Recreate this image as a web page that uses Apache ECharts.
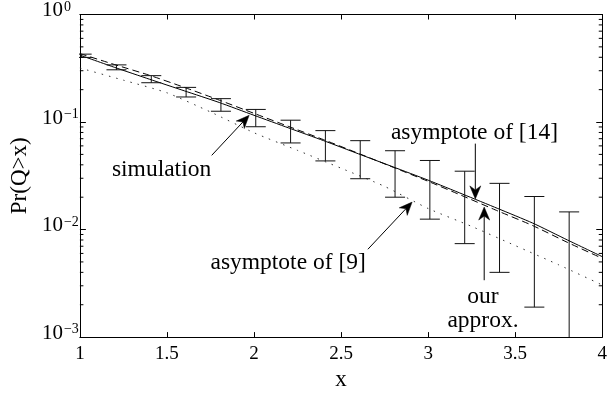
<!DOCTYPE html>
<html><head><meta charset="utf-8">
<script src="https://cdn.jsdelivr.net/npm/echarts@6/dist/echarts.min.js"></script>
<style>html,body{margin:0;padding:0;background:#fff}#c{width:610px;height:396px}</style>
</head><body><div id="c"></div>
<script>
// ---- data ----
const xLine  = [1.0,1.2,1.4,1.6,1.8,2.0,2.2,2.4,2.6,2.8,3.0,3.2,3.4,3.6,3.8,4.0];
const asym14 = [0.419,0.322,0.250,0.195,0.152,0.1155,0.088,0.0671,0.0506,0.0382,0.0288,0.0213,0.0157,0.0115,0.0080,0.0056];
const approx = [0.433,0.342,0.272,0.210,0.160,0.1204,0.0908,0.0685,0.0511,0.0379,0.0281,0.0205,0.0149,0.0109,0.0076,0.0054];
const xDot   = [1.0,1.25,1.5,1.75,2.0,2.25,2.5,2.75,3.0,3.25,3.5,3.75,4.0];
const asym9  = [0.318,0.245,0.187,0.124,0.0795,0.0545,0.0372,0.0252,0.0157,0.0107,0.0071,0.0047,0.00305];
const simX   = [1.01,1.21,1.41,1.61,1.81,2.01,2.21,2.41,2.61,2.81,3.01,3.21,3.41,3.61,3.81];
const simHi  = [0.428,0.340,0.270,0.210,0.165,0.131,0.104,0.0832,0.0671,0.0541,0.0439,0.0349,0.0269,0.0203,0.0146];
const simLo  = [0.399,0.306,0.232,0.171,0.126,0.0904,0.0639,0.0435,0.0297,0.0200,0.0125,0.0074,0.0040,0.0019,0.0008];
const minorTicks = [0.002,0.003,0.004,0.005,0.006,0.007,0.008,0.009,0.02,0.03,0.04,0.05,0.06,0.07,0.08,0.09,0.2,0.3,0.4,0.5,0.6,0.7,0.8,0.9];
const xLabelName = 'x';
const yLabelName = 'Pr(Q>x)';
// annotations: [text, data position], arrows: tail -> tip (data coords)
const annTexts = [
  ['simulation', [1.469, 0.0358]],
  ['asymptote of [9]', [2.196, 0.00487]],
  ['asymptote of [14]', [3.266, 0.0793]],
  ['our\napprox.', [3.315, 0.00183]]
];
const annArrows = [
  [[1.757, 0.0490], [1.972, 0.1155]],
  [[2.654, 0.00656], [2.908, 0.0180]],
  [[3.271, 0.0630], [3.271, 0.01928]],
  [[3.322, 0.00338], [3.322, 0.0162]]
];

const FONT = "'Liberation Serif','Times New Roman',serif";
const chart = echarts.init(document.getElementById('c'), null, {renderer:'canvas'});

const zip = (a,b) => a.map((v,i)=>[v,b[i]]);
const simData = simX.map((x,i)=>[x, simLo[i], simHi[i]]);

const yFmt = v => { const e = Math.round(Math.log10(v)); return '{b|10}{e|' + (e<0 ? '\u2212'+(-e) : e) + '}'; };

const option = {
  animation:false,
  backgroundColor:'#fff',
  grid:{left:74, right:5, top:13, bottom:53, containLabel:false},
  xAxis:[{
    type:'value', min:1, max:4, interval:0.5, position:'bottom',
    name:xLabelName, nameLocation:'middle', nameGap:25,
    nameTextStyle:{fontSize:23, fontFamily:FONT, color:'#000'},
    axisLine:{show:true, lineStyle:{color:'#000', width:1}},
    axisTick:{show:true, inside:true, length:5, lineStyle:{color:'#000'}},
    axisLabel:{fontSize:19, fontFamily:FONT, color:'#000', margin:7},
    splitLine:{show:false}
  },{
    type:'value', min:1, max:4, interval:0.5, position:'top',
    axisLine:{show:true, lineStyle:{color:'#000', width:1}},
    axisTick:{show:true, inside:true, length:5, lineStyle:{color:'#000'}},
    axisLabel:{show:false}, splitLine:{show:false}
  }],
  yAxis:[{
    type:'log', logBase:10, min:0.001, max:1, position:'left',
    name:yLabelName, nameLocation:'middle', nameGap:45, nameRotate:90,
    nameTextStyle:{fontSize:23, fontFamily:FONT, color:'#000'},
    axisLine:{show:true, lineStyle:{color:'#000', width:1}},
    axisTick:{show:true, inside:true, length:6, lineStyle:{color:'#000'}},
    axisLabel:{formatter:yFmt, align:'left', margin:38, padding:[0,0,8,0],
      rich:{
        b:{fontSize:21, fontFamily:FONT, color:'#000', lineHeight:21, verticalAlign:'bottom'},
        e:{fontSize:14, fontFamily:FONT, color:'#000', lineHeight:14, verticalAlign:'top', padding:[0,0,13,1]}
      }},
    splitLine:{show:false}
  },{
    type:'log', logBase:10, min:0.001, max:1, position:'right',
    axisLine:{show:true, lineStyle:{color:'#000', width:1}},
    axisTick:{show:true, inside:true, length:6, lineStyle:{color:'#000'}},
    axisLabel:{show:false}, splitLine:{show:false}
  }],
  series:[
    {name:'asymptote of [14]', type:'line', data:zip(xLine, asym14), showSymbol:false, symbol:'none',
     lineStyle:{color:'#000', width:1, type:'solid'}, smooth:0.2, z:3},
    {name:'our approx.', type:'line', data:zip(xLine, approx), showSymbol:false, symbol:'none',
     lineStyle:{color:'#000', width:1, type:[7,4]}, smooth:0.2, z:3},
    {name:'asymptote of [9]', type:'line', data:zip(xDot, asym9), showSymbol:false, symbol:'none',
     lineStyle:{color:'#333', width:1, type:[1.5,6]}, smooth:0.2, z:3},
    {name:'simulation', type:'custom', data:simData, clip:true, encode:{x:0, y:[1,2]}, z:4,
     renderItem:(params, api) => {
       const x = api.value(0);
       const top = api.coord([x, api.value(2)]);
       const bot = api.coord([x, api.value(1)]);
       const h = 10;
       const st = {stroke:'#111', lineWidth:1};
       return {type:'group', children:[
         {type:'line', shape:{x1:top[0], y1:top[1], x2:bot[0], y2:bot[1]}, style:st},
         {type:'line', shape:{x1:top[0]-h, y1:top[1], x2:top[0]+h, y2:top[1]}, style:st},
         {type:'line', shape:{x1:bot[0]-h, y1:bot[1], x2:bot[0]+h, y2:bot[1]}, style:st}
       ]};
     }},
    {name:'minorTicks', type:'custom', data:minorTicks.map(v=>[1, v]), clip:true, encode:{x:0, y:1}, silent:true, z:5,
     renderItem:(params, api) => {
       const v = api.value(1);
       const l = api.coord([1, v]);
       const r = api.coord([4, v]);
       const st = {stroke:'#000', lineWidth:1};
       return {type:'group', children:[
         {type:'line', shape:{x1:l[0], y1:l[1], x2:l[0]+3.5, y2:l[1]}, style:st},
         {type:'line', shape:{x1:r[0], y1:r[1], x2:r[0]-3.5, y2:r[1]}, style:st}
       ]};
     }}
  ]
};
chart.setOption(option);

const toPx = p => chart.convertToPixel({xAxisIndex:0, yAxisIndex:0}, p);
const graphics = [];
annArrows.forEach(([tail, tip]) => {
  const a = toPx(tail), b = toPx(tip);
  const dx = b[0]-a[0], dy = b[1]-a[1], len = Math.hypot(dx,dy);
  const ux = dx/len, uy = dy/len, nx = -uy, ny = ux;
  const L = 13, W = 5.5, notch = 4;
  const bx = b[0]-L*ux, by = b[1]-L*uy;
  const mx = b[0]-(L-notch)*ux, my = b[1]-(L-notch)*uy;
  graphics.push({type:'line', shape:{x1:a[0], y1:a[1], x2:mx, y2:my}, style:{stroke:'#000', lineWidth:1}, z:10});
  graphics.push({type:'polygon', shape:{points:[[b[0],b[1]],[bx+W*nx,by+W*ny],[mx,my],[bx-W*nx,by-W*ny]]}, style:{fill:'#000', stroke:'#000', lineWidth:0.5}, z:10});
});
annTexts.forEach(([t, p]) => {
  const q = toPx(p);
  graphics.push({type:'text', x:q[0], y:q[1], z:10,
    style:{text:t, fontSize:23.5, fontFamily:FONT, fill:'#000', lineHeight:24,
           align:'center', verticalAlign:'middle', textAlign:'center', textVerticalAlign:'middle'}});
});
chart.setOption({graphic:graphics});
</script>
</body></html>
